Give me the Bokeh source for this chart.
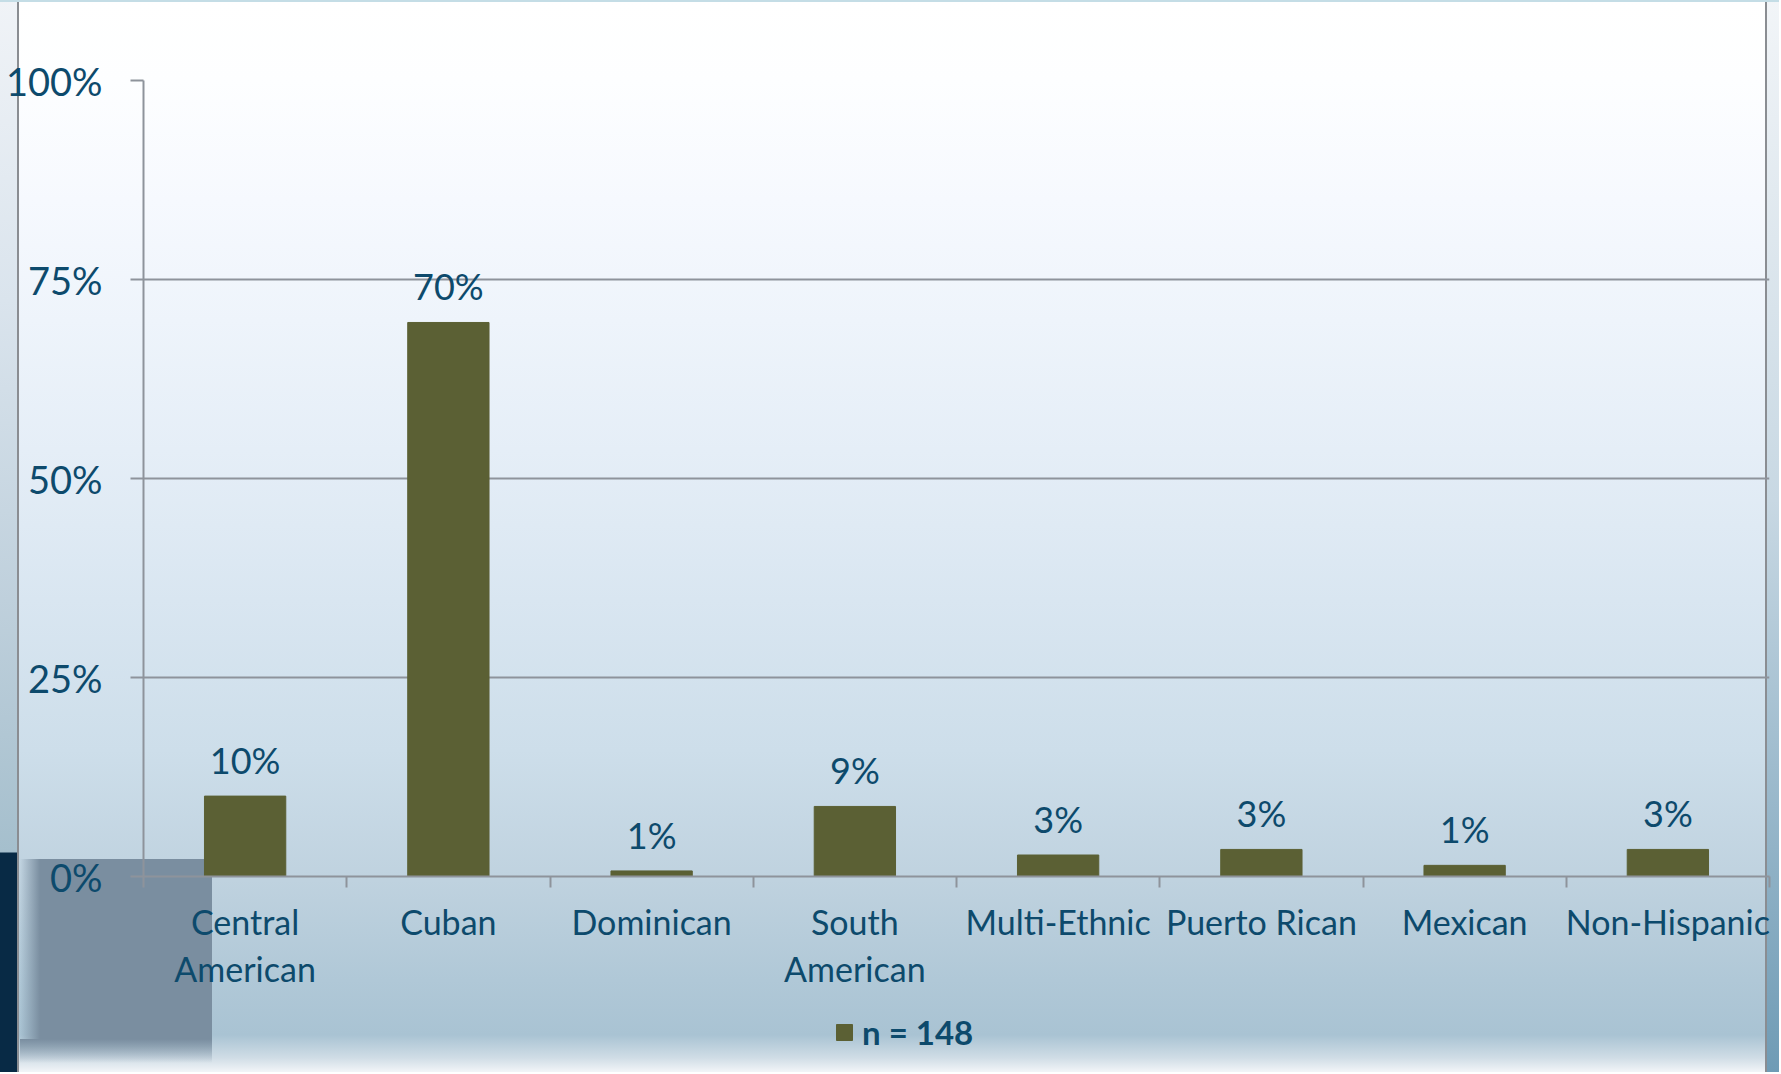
from bokeh.plotting import figure
from bokeh.layouts import column
from bokeh.models import (ColumnDataSource, FixedTicker, PrintfTickFormatter, LabelSet,
                          Legend, LegendItem, Range1d)
from bokeh.core.properties import value
from bokeh.embed import file_html
from bokeh.resources import INLINE

# ---- data ----
categories = ["Central American", "Cuban", "Dominican", "South American",
              "Multi-Ethnic", "Puerto Rican", "Mexican", "Non-Hispanic"]
category_labels = ["Central\nAmerican", "Cuban", "Dominican", "South\nAmerican",
                   "Multi-Ethnic", "Puerto Rican", "Mexican", "Non-Hispanic"]
values = [10.1, 69.6, 0.7, 8.8, 2.7, 3.4, 1.4, 3.4]
value_labels = ["10%", "70%", "1%", "9%", "3%", "3%", "1%", "3%"]
y_ticks = [0, 25, 50, 75, 100]
series_name = "n = 148"

# ---- styles ----
FONT = "Lato"
TXT = "#0d4a6c"
BAR = "#5b6034"
GRID = "#8e939b"

W = 1779
H1, H2 = 1010, 62

p = figure(width=W, height=H1, output_backend="svg", toolbar_location=None,
           x_range=Range1d(0, len(categories)), y_range=Range1d(0, 100),
           min_border_left=143, min_border_right=10, min_border_top=80,
           min_border_bottom=H1 - 80 - 796)
p.outline_line_color = None
p.background_fill_color = None
p.border_fill_color = None

# ---- bars ----
xs = [i + 0.5 for i in range(len(categories))]
src = ColumnDataSource(dict(x=xs, top=values, label=value_labels, cat=categories))
bars = p.vbar(x="x", top="top", width=0.4, bottom=0, source=src,
              fill_color=BAR, line_color=BAR)

labels = LabelSet(x="x", y="top", text="label", source=src, y_offset=22,
                  text_align="center", text_baseline="alphabetic",
                  text_font=value(FONT), text_font_size=value("36px"), text_color=value(TXT))
p.add_layout(labels)

# ---- axes ----
p.yaxis.ticker = FixedTicker(ticks=y_ticks)
p.yaxis.formatter = PrintfTickFormatter(format="%d%%")
p.yaxis.major_tick_out = 13
p.yaxis.major_tick_in = 0
p.yaxis.minor_tick_line_color = None
p.yaxis.axis_line_color = GRID
p.yaxis.axis_line_width = 2
p.yaxis.major_tick_line_color = GRID
p.yaxis.major_tick_line_width = 2
p.yaxis.major_label_text_font = FONT
p.yaxis.major_label_text_font_size = "38px"
p.yaxis.major_label_text_color = TXT
p.yaxis.major_label_standoff = 28

p.xaxis.ticker = FixedTicker(ticks=xs, minor_ticks=list(range(len(categories) + 1)))
p.xaxis.major_label_overrides = {x: lab for x, lab in zip(xs, category_labels)}
p.xaxis.major_tick_line_color = None
p.xaxis.major_tick_out = 0
p.xaxis.major_tick_in = 0
p.xaxis.minor_tick_out = 11
p.xaxis.minor_tick_in = 0
p.xaxis.minor_tick_line_color = GRID
p.xaxis.minor_tick_line_width = 2
p.xaxis.axis_line_color = GRID
p.xaxis.axis_line_width = 2
p.xaxis.major_label_text_font = FONT
p.xaxis.major_label_text_font_size = "34px"
p.xaxis.major_label_text_color = TXT
p.xaxis.major_label_text_line_height = 1.17
p.xaxis.major_label_standoff = 13

p.xgrid.grid_line_color = None
p.ygrid.ticker = FixedTicker(ticks=y_ticks)
p.ygrid.grid_line_color = GRID
p.ygrid.grid_line_width = 2

# ---- legend strip (separate, frameless figure below the chart) ----
q = figure(width=W, height=H2, output_backend="svg", toolbar_location=None,
           x_range=Range1d(0, W), y_range=Range1d(0, H2),
           x_axis_location=None, y_axis_location=None,
           min_border=0, min_border_left=0, min_border_right=0,
           min_border_top=0, min_border_bottom=0)
q.outline_line_color = None
q.background_fill_color = None
q.border_fill_color = None
q.xgrid.visible = False
q.ygrid.visible = False
# same series, hidden here: it only supplies the legend swatch
legend_glyph = q.vbar(x="x", top="top", width=0.4, bottom=0, source=src,
                      fill_color=BAR, line_color=BAR, visible=False)
legend = Legend(items=[LegendItem(label=series_name, renderers=[legend_glyph])],
                location=(691, 20), orientation="horizontal",
                padding=0, margin=0, spacing=0, border_line_color=None,
                background_fill_alpha=0, glyph_width=20, glyph_height=20,
                label_standoff=8, inactive_fill_alpha=0,
                label_text_font=FONT, label_text_font_size="33px",
                label_text_font_style="bold", label_text_color=TXT)
q.add_layout(legend, "center")

# page background (slide-like gradient) drawn with CSS behind the transparent canvases
layers = [
    # (image, position, size)
    ("linear-gradient(#c4dde6,#c4dde6)", "0px 0px", "100% 2px"),
    ("linear-gradient(#8a8d92,#8a8d92)", "17px 0px", "2px 100%"),
    ("linear-gradient(#7a8ea0,#7a8ea0)", "40px 859px", "172px 180px"),
    ("linear-gradient(to right, rgba(122,142,160,0), rgba(122,142,160,1))", "20px 859px", "20px 180px"),
    ("linear-gradient(to bottom, rgba(122,142,160,1), rgba(122,142,160,0))", "20px 1039px", "192px 24px"),
    ("linear-gradient(to bottom, #f0f3f7 0px, #dae4ed 300px, #bfd0dc 600px, #a5bfcd 852px, "
     "#082a45 853px, #082a45 100%)", "0px 0px", "17px 100%"),
    ("linear-gradient(#8a8d92,#8a8d92)", "1765px 0px", "2px 100%"),
    ("linear-gradient(to bottom, #f2f5f8 0px, #c8d8e3 500px, #6f9bb5 100%)", "1767px 0px", "20px 100%"),
    ("linear-gradient(to bottom, #ffffff 0px, #fdfeff 80px, #f6f9fe 200px, #eef4fb 320px, "
     "#e5eef7 450px, #d9e6f1 600px, #cddeea 750px, #bfd2df 880px, #b0c8d7 980px, "
     "#a9c3d3 1035px, #d0dde6 1058px, #f2f5f8 100%)", "0px 0px", "100% 100%"),
]
bg = {
    "background-image": ", ".join(l[0] for l in layers),
    "background-position": ", ".join(l[1] for l in layers),
    "background-size": ", ".join(l[2] for l in layers),
    "background-repeat": "no-repeat",
}

layout = column(p, q, spacing=0, styles=bg)

open("out.html", "w").write(file_html(layout, INLINE))
